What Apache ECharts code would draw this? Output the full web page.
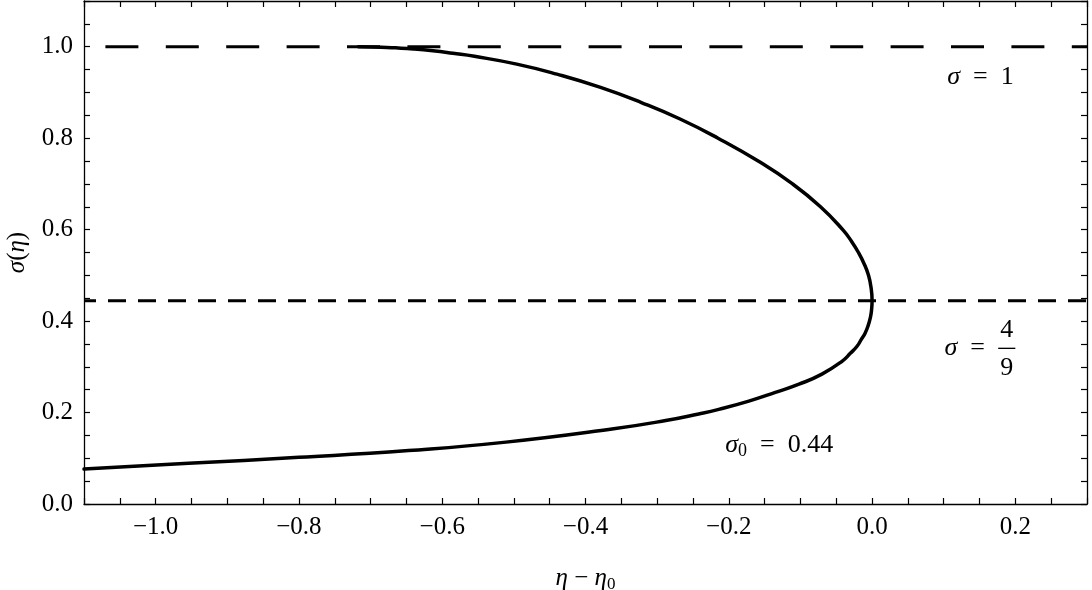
<!DOCTYPE html>
<html><head><meta charset="utf-8">
<script src="https://cdn.jsdelivr.net/npm/echarts@6/dist/echarts.min.js"></script>
<style>html,body{margin:0;padding:0;background:#fff}#c{width:1092px;height:590px}</style>
</head><body><div id="c"></div>
<script>
// curve sigma(eta), ordered along the curve (top -> vertex -> bottom)
const curveEta   = [-0.717, -0.685, -0.665, -0.64, -0.613, -0.585, -0.555, -0.496, -0.44, -0.379, -0.322, -0.268, -0.215, -0.159, -0.111, -0.072, -0.041, -0.029, -0.019, -0.011, -0.005, -0.0016, 0.0, -0.0007, -0.0021, -0.0055, -0.0099, -0.015, -0.021, -0.03, -0.042, -0.07, -0.102, -0.135, -0.172, -0.214, -0.242, -0.288, -0.363, -0.511, -0.647, -0.80, -0.954, -1.1];
const curveSigma = [1.0, 0.999, 0.9975, 0.995, 0.991, 0.9855, 0.979, 0.962, 0.94, 0.911, 0.878, 0.842, 0.80, 0.75, 0.70, 0.65, 0.60, 0.575, 0.55, 0.525, 0.50, 0.475, 0.4444, 0.425, 0.41, 0.39, 0.373, 0.36, 0.345, 0.33, 0.312, 0.284, 0.262, 0.244, 0.225, 0.207, 0.197, 0.1825, 0.164, 0.1353, 0.117, 0.102, 0.089, 0.0764];
const refSigmaOne = 1.0;
const refSigmaFrac = 4/9;
const xRange = [-1.1, 0.3];
const yRange = [0, 1.1];
const xTickValues = [-1.0, -0.8, -0.6, -0.4, -0.2, 0.0, 0.2];
const xTickLabels = ['\u22121.0', '\u22120.8', '\u22120.6', '\u22120.4', '\u22120.2', '0.0', '0.2'];
const yTickValues = [0.0, 0.2, 0.4, 0.6, 0.8, 1.0];
const yTickLabels = ['0.0', '0.2', '0.4', '0.6', '0.8', '1.0'];

const FONT = 'Liberation Serif';
function fmt(values, labels) {
  return function (v) {
    for (let i = 0; i < values.length; i++) if (Math.abs(v - values[i]) < 1e-6) return labels[i];
    return '';
  };
}
const axisLine = { show: true, onZero: false, lineStyle: { color: '#000', width: 1.3 } };
const tick = { show: true, inside: true, length: 6, lineStyle: { color: '#000', width: 1.2 } };

const chart = echarts.init(document.getElementById('c'), null, { renderer: 'canvas' });
const curveData = curveEta.map((e, i) => [e, curveSigma[i]]);

const option = {
  backgroundColor: '#fff',
  animation: false,
  grid: { left: 84, right: 5, top: 1, bottom: 86, containLabel: false, outerBoundsMode: 'none' },
  xAxis: [
    { type: 'value', min: xRange[0], max: xRange[1], interval: 0.05, position: 'bottom',
      axisLine, axisTick: tick, splitLine: { show: false },
      axisLabel: { formatter: fmt(xTickValues, xTickLabels), fontSize: 25, fontFamily: FONT, color: '#000', margin: 11 },
      name: '{i|\u03b7} \u2212 {i|\u03b7}{s|0}', nameLocation: 'middle', nameGap: 60,
      nameTextStyle: { fontSize: 25, fontFamily: FONT, color: '#000',
        rich: { i: { fontStyle: 'italic', fontSize: 25, fontFamily: FONT, color: '#000' },
                s: { fontSize: 17, fontFamily: FONT, color: '#000', padding: [12, 0, 0, 0] } } } },
    { type: 'value', min: xRange[0], max: xRange[1], interval: 0.05, position: 'top',
      axisLine, axisTick: tick, axisLabel: { show: false }, splitLine: { show: false } }
  ],
  yAxis: [
    { type: 'value', min: yRange[0], max: yRange[1], interval: 0.05, position: 'left',
      axisLine, axisTick: tick, splitLine: { show: false },
      axisLabel: { formatter: fmt(yTickValues, yTickLabels), fontSize: 25, fontFamily: FONT, color: '#000', margin: 11 },
      name: '{i|\u03c3}({i|\u03b7})', nameLocation: 'middle', nameGap: 54, nameRotate: 90,
      nameTextStyle: { fontSize: 25, fontFamily: FONT, color: '#000',
        rich: { i: { fontStyle: 'italic', fontSize: 25, fontFamily: FONT, color: '#000' } } } },
    { type: 'value', min: yRange[0], max: yRange[1], interval: 0.05, position: 'right',
      axisLine, axisTick: tick, axisLabel: { show: false }, splitLine: { show: false } }
  ],
  series: [
    { type: 'line', xAxisIndex: 0, yAxisIndex: 0, data: [[xRange[0], refSigmaOne], [xRange[1], refSigmaOne]],
      symbol: 'none', lineStyle: { color: '#000', width: 2.8, type: [33, 27.4], dashOffset: 39 }, silent: true, z: 2 },
    { type: 'line', xAxisIndex: 0, yAxisIndex: 0, data: [[xRange[0], refSigmaFrac], [xRange[1], refSigmaFrac]],
      symbol: 'none', lineStyle: { color: '#000', width: 2.8, type: [18, 12], dashOffset: 6 }, silent: true, z: 2 },
    { type: 'line', xAxisIndex: 0, yAxisIndex: 0, data: curveData, symbol: 'none', smooth: 0.5,
      lineStyle: { color: '#000', width: 3.5, join: 'round', cap: 'round' }, clip: true, silent: true, z: 3 }
  ]
};
chart.setOption(option);

// annotations placed in data coordinates
function px(x, y) { return chart.convertToPixel({ xAxisIndex: 0, yAxisIndex: 0 }, [x, y]); }
const richBase = {
  i: { fontStyle: 'italic', fontSize: 26, fontFamily: FONT, fill: '#000', color: '#000' },
  n: { fontSize: 26, fontFamily: FONT, fill: '#000', color: '#000' },
  s: { fontSize: 18, fontFamily: FONT, fill: '#000', color: '#000', padding: [12, 0, 0, 0] }
};
function textEl(x, y, text, align) {
  const p = px(x, y);
  return { type: 'text', x: p[0], y: p[1], silent: true,
    style: { text, rich: richBase, font: '26px ' + FONT, fill: '#000',
      textAlign: align || 'left', textVerticalAlign: 'middle', align: align || 'left', verticalAlign: 'middle' } };
}
const b1 = px(0.176, refSigmaFrac - 0.104), b2 = px(0.2, refSigmaFrac - 0.104);
chart.setOption({
  graphic: [
    textEl(0.105, 0.934, '{i|\u03c3}{n|\u2002=\u20021}'),
    textEl(0.101, 0.340, '{i|\u03c3}{n|\u2002=}'),
    textEl(0.188, 0.380, '{n|4}', 'center'),
    textEl(0.188, 0.298, '{n|9}', 'center'),
    { type: 'line', silent: true, shape: { x1: b1[0], y1: b1[1], x2: b2[0], y2: b2[1] }, style: { stroke: '#000', lineWidth: 1.3 } },
    textEl(-0.205, 0.129, '{i|\u03c3}{s|0}{n|\u2002=\u20020.44}')
  ]
});
</script>
</body></html>
